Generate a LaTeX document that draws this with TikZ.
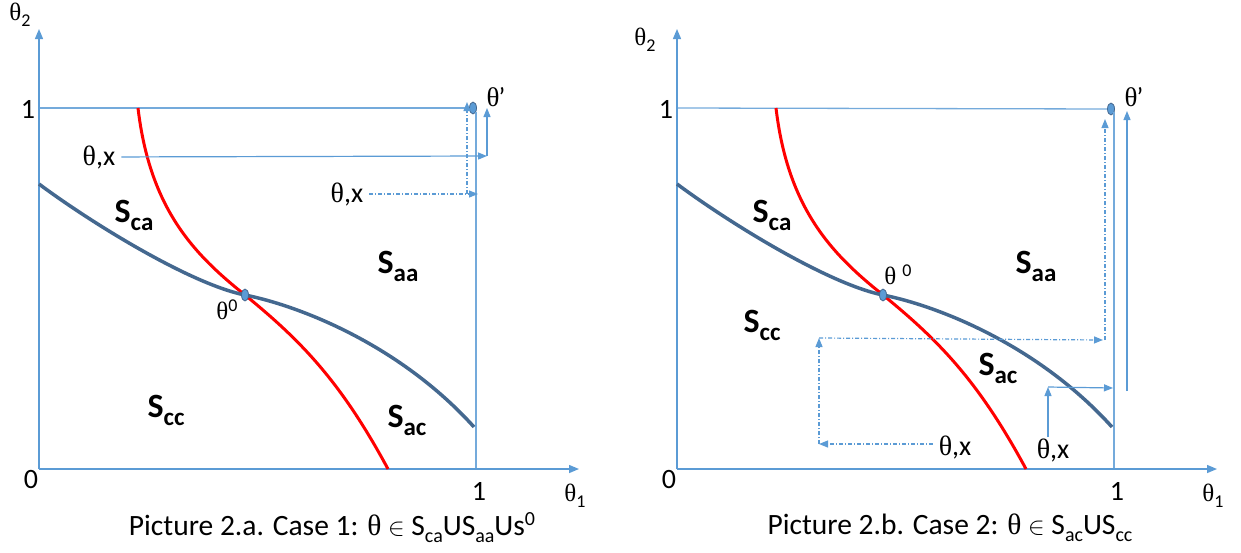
\documentclass[tikz,border=0pt]{standalone}
\usepackage{fontspec}
\setmainfont{Carlito}
\newfontfamily\grk{Liberation Serif}
\usetikzlibrary{arrows.meta,shapes.geometric}
\definecolor{axblue}{HTML}{5B9BD5}
\definecolor{cblue}{HTML}{44688F}
\newcommand\fs[1]{\fontsize{#1}{#1}\selectfont}
\newcommand\thg{{\grk θ}}
\newcommand\subt[3]{\raisebox{-#1pt}{\fs{#2}#3}}
\newcommand\supt[3]{\raisebox{#1pt}{\fs{#2}#3}}
\tikzset{
  axis/.style={draw=axblue, line width=1.4pt, -{Triangle[length=10pt,width=8pt]}},
  guide/.style={draw=axblue!85, line width=1.3pt},
  arr/.style={draw=axblue, line width=1.2pt, -{Triangle[length=9pt,width=7pt]}},
  dd/.style={dash pattern=on 4pt off 2pt on 1pt off 2pt},
  redc/.style={draw=red, line width=3pt},
  bluec/.style={draw=cblue, line width=3.5pt},
  pdot/.style={ellipse, fill=axblue, draw=cblue, line width=0.8pt, minimum width=7pt, minimum height=12pt, inner sep=0pt},
  lbl/.style={font=\fs{28}, inner sep=1pt},
  captxt/.style={font=\fs{29.5}, inner sep=1pt},
  glbl/.style={font=\fs{25}, inner sep=1pt},
  prlbl/.style={font=\fs{27}, inner sep=1pt},
  tx/.style={font=\fs{28}, inner xsep=6pt, inner ysep=1pt},
  slab/.style={font=\fs{34}\bfseries, inner sep=0pt},
}
\newcommand\panelbase[1]{%
  \coordinate (#1O) at (39,469);
  \coordinate (#1Y) at (39,29);
  \coordinate (#1X) at (579,469);
  \coordinate (#1T) at (39,108);
  \coordinate (#1V) at (476,112);
  \coordinate (#1Vb) at (476,469);
  \draw[guide] (#1T) -- (#1P);
  \draw[guide] (#1V) -- (#1Vb);
  \draw[axis] (#1O) -- (#1Y);
  \draw[axis] (#1O) -- (#1X);
  \node[lbl] (#1zero) at (31,480) {0};
  \node[lbl] (#1one) at (479,491) {1};
  \node[lbl] (#1oney) at (28,109) {1};
  \node[glbl] (#1tx) at (575,496) {\thg\subt{6}{18}{1}};
  \coordinate (#1r0) at (138,108);
  \coordinate (#1c0) at (245,295);
  \coordinate (#1r1) at (388,469);
  \coordinate (#1b0) at (39,184);
  \coordinate (#1b1) at (474,427);
  \draw[redc] (#1r0) .. controls (150,210) and (195,255) .. (#1c0)
                     .. controls (300,340) and (340,380) .. (#1r1);
  \draw[bluec] (#1b0) .. controls (90,222) and (190,284) .. (#1c0)
                      .. controls (300,306) and (400,345) .. (#1b1);
  \node[pdot] (#1zdot) at (#1c0) {};
  \node[prlbl] (#1prime) at (496,97) {\thg\kern-1pt’};
  \node[slab] (#1sca) at (134,215) {S\subt{8}{25}{ca}};
  \node[slab] (#1saa) at (398,266) {S\subt{8}{25}{aa}};
}
\begin{document}
\begin{tikzpicture}[x=1pt,y=-1pt]
\useasboundingbox (0,0) rectangle (1241,552);
% ---------- left panel ----------
\node[pdot] (lP) at (473,108) {};
\panelbase{l}
\node[slab] (lscc) at (166,410) {S\subt{8}{25}{cc}};
\node[slab] (lsac) at (407,420) {S\subt{8}{25}{ac}};
\node[glbl] (lty) at (20,15) {\thg\subt{6}{18}{2}};
\node[glbl] (lz) at (227,310) {\thg\supt{8}{18}{0}};
\node[tx] (ltx1) at (99,157) {\thg,x};
\coordinate (la1) at (487,156);
\coordinate (la2) at (487,108);
\draw[arr] (ltx1) -- (la1);
\draw[arr] (la1) -- (la2);
\node[tx] (ltx2) at (347,194) {\thg,x};
\coordinate (lb1) at (478,194);
\coordinate (lb0) at (467,194);
\coordinate (lb2) at (467,102);
\draw[arr,dd] (ltx2) -- (lb1);
\draw[arr,dd] (lb0) -- (lb2);
\node[captxt] (lcap) at (332,528) {Picture 2.a. Case 1: \thg\ $\in$ S\subt{7}{20}{ca}US\subt{7}{20}{aa}Us\supt{10}{20}{0}};
% ---------- right panel ----------
\begin{scope}[xshift=638pt]
\node[pdot] (rP) at (473,109) {};
\panelbase{r}
\end{scope}
\node[slab] (rscc) at (762,325) {S\subt{8}{25}{cc}};
\node[slab] (rsac) at (998,368) {S\subt{8}{25}{ac}};
\node[glbl] (rty) at (645,40) {\thg\subt{6}{18}{2}};
\node[glbl] (rz) at (898,275) {\thg\hspace{6pt}\supt{8}{18}{0}};
% dash-dot path
\node[tx] (rtx1) at (955,447) {\thg,x};
\coordinate (ra) at (819,444);
\coordinate (rb) at (819,338);
\coordinate (rc) at (1103,340);
\coordinate (rd) at (1105,340);
\coordinate (re) at (1105,119);
\draw[arr,dd] (rtx1.west |- ra) -- (ra);
\draw[arr,dd] (ra) -- (rb);
\draw[arr,dd] (rb) -- (rc);
\draw[arr,dd] (rd) -- (re);
% solid path
\node[tx] (rtx2) at (1053,450) {\thg,x};
\coordinate (rf) at (1048,437);
\coordinate (rg) at (1048,387);
\coordinate (rh) at (1113,388);
\coordinate (ri) at (1127,391);
\coordinate (rj) at (1127,111);
\draw[arr] (rf) -- (rg);
\draw[arr] (rg) -- (rh);
\draw[arr] (ri) -- (rj);
\node[captxt] (rcap) at (950,528) {Picture 2.b. Case 2: \thg\ $\in$ S\subt{7}{20}{ac}US\subt{7}{20}{cc}};
\end{tikzpicture}
\end{document}
